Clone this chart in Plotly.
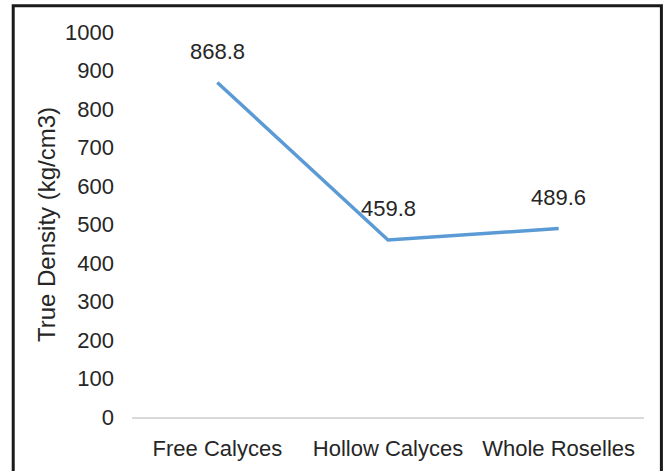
import plotly.graph_objects as go

categories = ["Free Calyces", "Hollow Calyces", "Whole Roselles"]
density = [868.8, 459.8, 489.6]
density_labels = ["868.8", "459.8", "489.6"]
y_ticks = list(range(0, 1001, 100))

FONT = "Liberation Sans, Arial, sans-serif"
TXT = "#262626"

fig = go.Figure()
fig.add_trace(go.Scatter(
    x=categories, y=density, mode="lines",
    line=dict(color="#5B9BD5", width=3.5),
    hoverinfo="skip", showlegend=False,
))

for c, v, t in zip(categories, density, density_labels):
    fig.add_annotation(x=c, y=v, text=t, showarrow=False, yshift=31,
                       font=dict(family=FONT, size=22, color=TXT))

fig.add_shape(type="rect", xref="paper", yref="paper",
              x0=-0.232, x1=1.034, y0=-0.2, y1=1.068,
              line=dict(color="#1a1a1a", width=3), fillcolor="rgba(0,0,0,0)")

fig.update_layout(
    width=665, height=471,
    margin=dict(l=132, r=21, t=32, b=54, autoexpand=False),
    paper_bgcolor="white", plot_bgcolor="white",
    font=dict(family=FONT, size=22, color=TXT),
    xaxis=dict(
        range=[-0.5, 2.5], automargin=False,
        showline=True, linecolor="#d9d9d9", linewidth=1.5,
        showgrid=False, zeroline=False, ticks="", ticklabelstandoff=11,
        tickfont=dict(family=FONT, size=22, color=TXT),
    ),
    yaxis=dict(
        range=[0, 1000], tickvals=y_ticks, showgrid=False, zeroline=False,
        automargin=False,
        showline=False, ticks="", ticklabelstandoff=17,
        tickfont=dict(family=FONT, size=22, color=TXT),
        title=dict(text="True Density (kg/cm3)", standoff=2,
                   font=dict(family=FONT, size=24, color=TXT)),
    ),
)

fig.write_html("out.html")
